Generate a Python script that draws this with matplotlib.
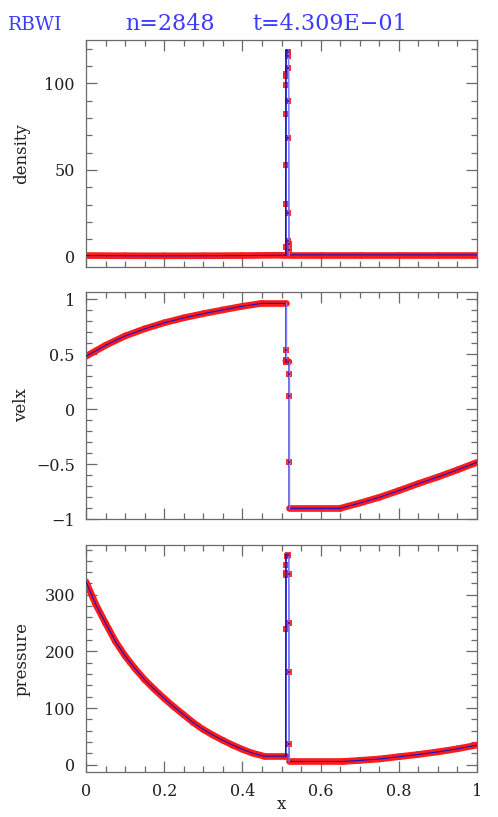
import matplotlib
matplotlib.use("Agg")
import matplotlib.pyplot as plt
from matplotlib.ticker import MultipleLocator, FuncFormatter

plt.rcParams['font.family'] = ['DejaVu Serif']

# ---- data ----
# density profile (x, rho)
rho_x = [0.0, 0.1, 0.2, 0.3, 0.4, 0.5, 0.511, 0.5115, 0.518, 0.519, 0.520, 0.6, 0.7, 0.8, 0.9, 1.0]
rho = [0.6, 0.5, 0.45, 0.5, 0.6, 0.8, 0.8, 119, 119, 9, 1.0, 1.0, 1.0, 1.0, 1.0, 1.0]
# points inside the dense shell
rho_shell_x = [0.5115, 0.512, 0.5115, 0.5175, 0.5175, 0.512, 0.5175, 0.5115, 0.5115, 0.5175, 0.5115,
               0.5175, 0.5175, 0.5165, 0.5185, 0.519]
rho_shell = [30.5, 52.6, 82.5, 68.6, 89.6, 98.8, 109, 104, 105.6, 25.3, 5.4, 9.2, 118, 116, 4.0, 7.0]

# velocity profile
v_x = [0.0, 0.05, 0.1, 0.15, 0.2, 0.25, 0.3, 0.35, 0.4, 0.45, 0.511, 0.511, 0.519, 0.519,
       0.65, 0.7, 0.75, 0.8, 0.85, 0.9, 0.95, 1.0]
velx = [0.48, 0.58, 0.665, 0.73, 0.785, 0.83, 0.868, 0.902, 0.935, 0.962, 0.962, 0.44, 0.43, -0.903,
        -0.903, -0.855, -0.803, -0.742, -0.678, -0.618, -0.553, -0.485]
v_shell_x = [0.511, 0.511, 0.512, 0.512, 0.5195, 0.5195, 0.5195]
v_shell = [0.536, 0.445, 0.43, 0.44, 0.315, 0.12, -0.485]

# pressure profile
p_x = [0.0, 0.025, 0.05, 0.075, 0.1, 0.125, 0.15, 0.175, 0.2, 0.225, 0.25, 0.275, 0.3, 0.325,
       0.35, 0.375, 0.4, 0.425, 0.455, 0.511, 0.5115, 0.5185, 0.5195, 0.657, 0.7, 0.75, 0.8,
       0.85, 0.9, 0.95, 1.0]
pres = [323, 283, 250, 218, 192, 170, 150, 133, 117, 102, 88, 74, 62, 52,
        43, 34.5, 27, 20.5, 15, 15, 371, 371, 5.6, 5.6, 7.5, 10, 14,
        18, 22.5, 28, 34.5]
p_shell_x = [0.5115, 0.5115, 0.5115, 0.519, 0.519, 0.5115, 0.519, 0.519, 0.513, 0.5175]
p_shell = [353, 339, 335, 337, 251, 240, 164, 36, 368, 370]

panels = [
    (rho_x, rho, rho_shell_x, rho_shell, 'density', (-6, 125), 50, 10),
    (v_x, velx, v_shell_x, v_shell, 'velx', (-1.0, 1.065), 0.5, 0.1),
    (p_x, pres, p_shell_x, p_shell, 'pressure', (-13, 388), 100, 20),
]

W, H = 498, 817
fig = plt.figure(figsize=(W / 100, H / 100), dpi=100)

tops = [40, 292, 545]
hgt = 227
frame = '#6a6a6a'
red = '#ff1a1a'


def fmt(v, pos):
    s = '%g' % v
    return s.replace('-', '\u2212')


for i, (xs, ys, sx, sy, name, ylim, major, minor) in enumerate(panels):
    ax = fig.add_axes([86 / W, 1 - (tops[i] + hgt) / H, 391 / W, hgt / H])

    # red band only along the smooth parts, jumps are thin blue lines
    for k in range(len(xs) - 1):
        if xs[k + 1] - xs[k] > 0.008:
            ax.plot(xs[k:k + 2], ys[k:k + 2], color=red, lw=4.8,
                    solid_capstyle='round', zorder=2)
        else:
            c = '#1010c0' if ys[k + 1] >= ys[k] else '#7f7fff'
            ax.plot(xs[k:k + 2], ys[k:k + 2], color=c, lw=1.0, zorder=4)
    ax.plot(sx, sy, 's', color=red, ms=4, mew=0, alpha=0.9, zorder=3)
    ax.plot(xs, ys, color='#1515c8', lw=0.8, zorder=3.5)
    ax.plot(sx, sy, 's', color='#701a80', ms=1.5, mew=0, zorder=6)

    ax.set_xlim(0, 1)
    ax.set_ylim(*ylim)
    ax.xaxis.set_major_locator(MultipleLocator(0.2))
    ax.xaxis.set_minor_locator(MultipleLocator(0.05))
    ax.yaxis.set_major_locator(MultipleLocator(major))
    ax.yaxis.set_minor_locator(MultipleLocator(minor))
    ax.yaxis.set_major_formatter(FuncFormatter(fmt))
    ax.xaxis.set_major_formatter(FuncFormatter(fmt))
    ax.tick_params(which='both', direction='in', top=True, right=True, colors=frame,
                   labelcolor='#202020', labelsize=11.5)
    ax.tick_params(which='major', length=8, width=0.9, pad=8)
    ax.tick_params(which='minor', length=4, width=0.9)
    for sp in ax.spines.values():
        sp.set_color(frame)
        sp.set_linewidth(0.9)
    ax.set_ylabel(name, fontsize=12, color='#202020')
    ax.yaxis.set_label_coords(-0.143, 0.5)
    if i < 2:
        ax.tick_params(labelbottom=False)
    else:
        ax.set_xlabel('x', fontsize=12, color='#202020', labelpad=-3)

# title line
blue = '#3c3cff'
fig.text(8 / W, 1 - 30 / H, 'RBWI', color=blue, fontsize=13.5)
fig.text(125 / W, 1 - 30 / H, 'n=2848', color=blue, fontsize=16)
fig.text(252 / W, 1 - 30 / H, 't=4.309E\u221201', color=blue, fontsize=16)

fig.savefig('out.png', dpi=100)
